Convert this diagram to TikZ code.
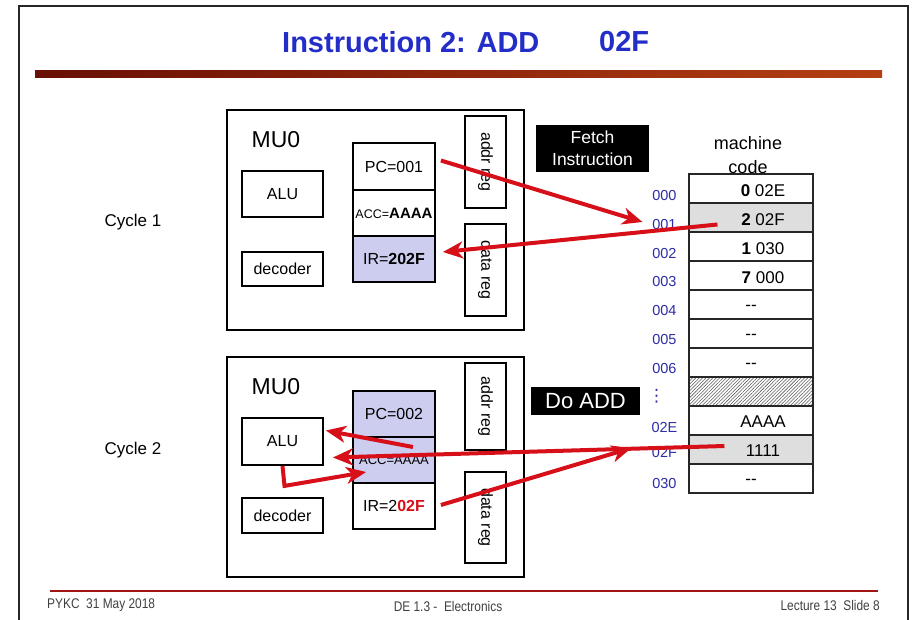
\documentclass[tikz,border=0pt]{standalone}
\usepackage{fontspec}
\setmainfont{Liberation Sans}
\newfontfamily\footfont[FakeStretch=0.85]{Liberation Sans}
\newfontfamily\dvsfont{DejaVu Sans}
\usetikzlibrary{arrows.meta,patterns.meta,calc}
\definecolor{ttl}{RGB}{35,45,200}
\definecolor{adr}{RGB}{45,45,165}
\definecolor{lav}{RGB}{205,205,240}
\definecolor{arr}{RGB}{215,15,25}
\definecolor{barL}{RGB}{105,15,5}
\definecolor{barR}{RGB}{180,62,18}
\definecolor{foot}{RGB}{160,20,20}
\definecolor{cellgray}{RGB}{222,222,222}
\begin{document}
\begin{tikzpicture}[x=1pt,y=-1pt,
  box/.style={draw=black,line width=1.8pt,inner sep=0pt,font=\fontsize{16}{19}\selectfont},
  mulbl/.style={inner sep=0pt,font=\fontsize{23}{27}\selectfont},
  cyc/.style={inner sep=0pt,font=\fontsize{17}{20}\selectfont},
  blackbox/.style={fill=black,text=white,inner sep=0pt,align=center},
  memrow/.style={draw=black!85,line width=1.1pt,minimum width=124pt,minimum height=29pt,inner sep=0pt},
  memtxt/.style={inner sep=0pt,font=\fontsize{17}{20}\selectfont},
  adrtxt/.style={inner sep=0pt,text=adr,font=\fontsize{14.5}{17}\selectfont},
  foottxt/.style={inner sep=0pt,text=black!75,font=\footfont\fontsize{14}{16}\selectfont},
  rarr/.style={draw=arr,line width=4pt,-{Stealth[length=20pt,width=17pt,inset=6pt]}}
]
\useasboundingbox (0,0) rectangle (913,619);
\clip (0,0) rectangle (913,619);
\fill[white] (0,0) rectangle (913,619);
% slide frame
\draw[black!85,line width=1.2pt] (19,6) rectangle (908,660);
% title
\node[inner sep=0pt,anchor=west,text=ttl,font=\bfseries\fontsize{29}{32}\selectfont] (title) at (282,42) {Instruction 2: ADD};
\node[inner sep=0pt,anchor=west,text=ttl,font=\bfseries\fontsize{29}{32}\selectfont] (title2) at (599,42) {02F};
\shade[left color=barL,right color=barR] (35,70) rectangle (882,77);
% footer
\draw[foot,line width=2.5pt] (50,591) -- (878,591);
\node[foottxt,anchor=west] (f1) at (47,605) {PYKC\ \ 31 May 2018};
\node[foottxt] (f2) at (448,606) {DE 1.3 -\ \ Electronics};
\node[foottxt,anchor=east] (f3) at (880,605) {Lecture 13\ \ Slide 8};
% cycle labels
\node[cyc] (c1) at (133,222) {Cycle 1};
\node[cyc] (c2) at (133,450) {Cycle 2};
% ---------- cycle 1 MU0 ----------
\node[box,minimum width=297pt,minimum height=220pt] (mu1) at (375.5,220) {};
\node[mulbl] (mu1t) at (276,140) {MU0};
\node[box,minimum width=81pt,minimum height=46pt] (alu1) at (282.5,194) {ALU};
\node[box,minimum width=81pt,minimum height=34pt] (dec1) at (282.5,269) {decoder};
\node[box,minimum width=82pt,minimum height=47pt] (pc1) at (394,166.5) {PC=001};
\node[box,minimum width=82pt,minimum height=46pt] (acc1) at (394,213) {{\fontsize{12.5}{14}\selectfont ACC=}{\fontsize{15}{17}\selectfont\bfseries AAAA}};
\node[box,fill=lav,minimum width=82pt,minimum height=46pt] (ir1) at (394,259) {IR=\textbf{202F}};
\node[box,minimum width=41pt,minimum height=92pt] (addr1) at (485.5,162) {\rotatebox{-90}{addr reg}};
\node[box,minimum width=41pt,minimum height=92pt] (data1) at (485.5,270) {\rotatebox{-90}{data reg}};
% ---------- cycle 2 MU0 ----------
\node[box,minimum width=297pt,minimum height=220pt] (mu2) at (375.5,467) {};
\node[mulbl] (mu2t) at (276,387) {MU0};
\node[box,minimum width=81pt,minimum height=47pt] (alu2) at (282.5,441.5) {ALU};
\node[box,minimum width=81pt,minimum height=35pt] (dec2) at (282.5,515.5) {decoder};
\node[box,fill=lav,minimum width=82pt,minimum height=46pt] (pc2) at (394,414) {PC=002};
\node[box,fill=lav,minimum width=82pt,minimum height=46pt] (acc2) at (394,460) {{\fontsize{13}{15}\selectfont ACC=AAAA}};
\node[box,minimum width=82pt,minimum height=46pt] (ir2) at (394,506) {IR=2\textcolor{arr}{\textbf{02F}}};
\node[box,minimum width=41pt,minimum height=87pt] (addr2) at (485.5,406.5) {\rotatebox{-90}{addr reg}};
\node[box,minimum width=41pt,minimum height=91pt] (data2) at (485.5,517.5) {\rotatebox{-90}{data reg}};
% ---------- labels ----------
\node[blackbox,minimum width=113pt,minimum height=47pt,font=\fontsize{17.5}{22}\selectfont] (fetch) at (592.5,148.5) {Fetch\\Instruction};
\node[blackbox,minimum width=109pt,minimum height=28pt,font=\fontsize{22}{24}\selectfont] (doadd) at (585.5,401) {Do ADD};
\node[inner sep=0pt,align=center,font=\fontsize{18}{24}\selectfont] (mc) at (748,155) {machine\\code};
% ---------- memory ----------
\node[memrow] (m0) at (751,188.5) {};
\node[memrow,fill=cellgray] (m1) at (751,217.5) {};
\node[memrow] (m2) at (751,246.5) {};
\node[memrow] (m3) at (751,275.5) {};
\node[memrow] (m4) at (751,304.5) {};
\node[memrow] (m5) at (751,333.5) {};
\node[memrow] (m6) at (751,362.5) {};
\node[memrow,pattern={Lines[angle=45,distance=2.4pt,line width=0.55pt]},pattern color=black!65] (m7) at (751,391.5) {};
\node[memrow] (m8) at (751,420.5) {};
\node[memrow,fill=cellgray] (m9) at (751,449.5) {};
\node[memrow] (m10) at (751,478.5) {};
\node[memtxt] (v0) at ($(m0.center)+(12,2)$) {\textbf{0} 02E};
\node[memtxt] (v1) at ($(m1.center)+(12,2)$) {\textbf{2} 02F};
\node[memtxt] (v2) at ($(m2.center)+(12,2)$) {\textbf{1} 030};
\node[memtxt] (v3) at ($(m3.center)+(12,2)$) {\textbf{7} 000};
\node[memtxt] (v4) at ($(m4.center)+(0,3)$) {{-}{-}};
\node[memtxt] (v5) at ($(m5.center)+(0,3)$) {{-}{-}};
\node[memtxt] (v6) at ($(m6.center)+(0,3)$) {{-}{-}};
\node[memtxt] (v8) at ($(m8.center)+(12,1)$) {AAAA};
\node[memtxt] (v9) at ($(m9.center)+(12,1)$) {1111};
\node[memtxt] (v10) at ($(m10.center)+(0,3)$) {{-}{-}};
\node[adrtxt] (a0) at ($(m0.west)+(-24,7)$) {000};
\node[adrtxt] (a1) at ($(m1.west)+(-24,7)$) {001};
\node[adrtxt] (a2) at ($(m2.west)+(-24,7)$) {002};
\node[adrtxt] (a3) at ($(m3.west)+(-24,6)$) {003};
\node[adrtxt] (a4) at ($(m4.west)+(-24,6)$) {004};
\node[adrtxt] (a5) at ($(m5.west)+(-24,6)$) {005};
\node[adrtxt] (a6) at ($(m6.west)+(-24,6)$) {006};
\node[adrtxt,font=\dvsfont\fontsize{17}{19}\selectfont] (a7) at ($(m7.west)+(-32,5)$) {⋮};
\node[adrtxt] (a8) at ($(m8.west)+(-24,7)$) {02E};
\node[adrtxt] (a9) at ($(m9.west)+(-24,3)$) {02F};
\node[adrtxt] (a10) at ($(m10.west)+(-24,5)$) {030};
% ---------- arrows ----------
\draw[rarr] ($(pc1.east)+(5,-6)$) -- ($(m1.west)+(-46,4.5)$);
\draw[rarr] ($(m1.west)+(29,7)$) -- ($(ir1.east)+(7,-7)$);
\draw[rarr] ($(acc2.center)+(19,-13)$) -- ($(alu2.east)+(2,-11)$);
\draw[rarr] ($(m9.west)+(36,-3.5)$) -- ($(alu2.east)+(9,16)$);
\draw[rarr] (alu2.south) -- ++(2,20) -- ($(acc2.west)+(14,12)$);
\draw[rarr] ($(ir2.east)+(5,-1)$) -- ($(m9.west)+(-57,-1.5)$);
\end{tikzpicture}
\end{document}
